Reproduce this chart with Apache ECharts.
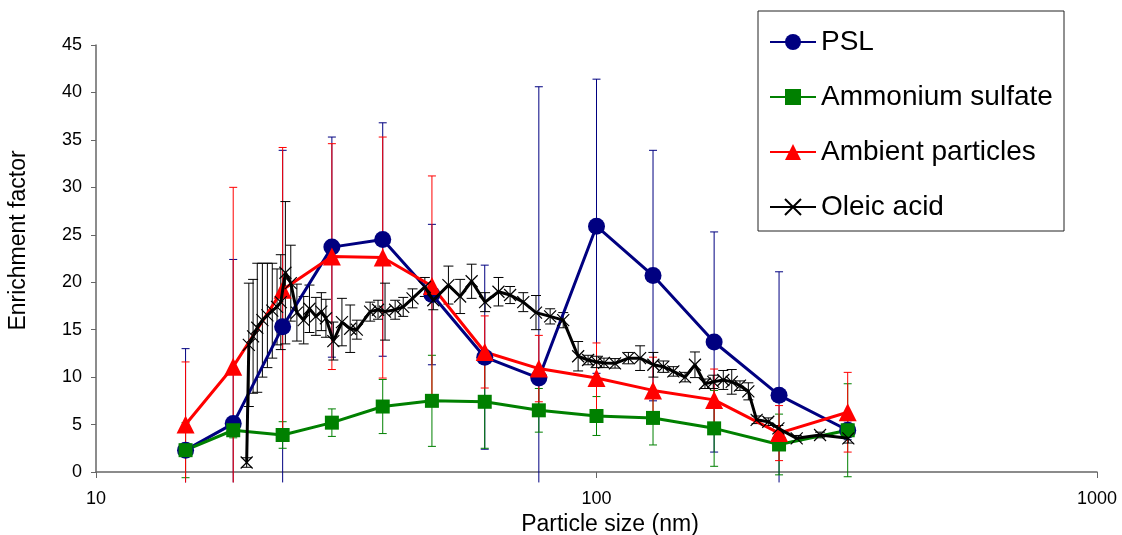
<!DOCTYPE html>
<html>
<head>
<meta charset="utf-8">
<script src="https://cdn.jsdelivr.net/npm/echarts@6/dist/echarts.min.js"></script>
<style>
html,body{margin:0;padding:0;background:#fff;}
#chart{width:1122px;height:535px;}
</style>
</head>
<body>
<div id="chart"></div>
<script>
// Shared particle sizes (nm) for PSL, ammonium sulfate, ambient particles
const sizes = [15.1, 18.8, 23.6, 29.6, 37.4, 46.9, 59.8, 76.7, 100, 129.7, 171.8, 231.6, 317.6];
const psl = [2.3, 5.1, 15.3, 23.7, 24.5, 18.7, 12.1, 9.9, 25.9, 20.7, 13.7, 8.1, 4.4];
const pslErr = [10.7, 17.3, 18.6, 11.6, 12.3, 7.4, 9.7, 30.7, 15.5, 13.2, 11.6, 13.0, 1.0];
const ammSulfate = [2.3, 4.4, 3.9, 5.2, 6.9, 7.5, 7.4, 6.5, 5.9, 5.7, 4.6, 2.9, 4.4];
const ammSulfateErr = [2.9, 0.8, 1.4, 1.45, 2.85, 4.8, 4.9, 2.3, 2.05, 2.85, 4.0, 3.2, 4.9];
const ambient = [5.0, 11.1, 19.2, 22.7, 22.6, 19.6, 12.65, 10.9, 9.9, 8.6, 7.6, 4.1, 6.3];
const ambientErr = [6.6, 18.9, 15.0, 11.9, 12.7, 11.6, 3.8, 3.5, 3.7, 3.5, 3.25, 2.9, 4.2];

// Oleic acid
const oleicSizes = [20.0, 20.2, 20.6, 21.0, 21.5, 22.0, 22.5, 23.0, 23.4, 23.9, 24.5, 25.2, 26.0, 26.7, 27.5, 28.2, 28.8, 29.8, 31.0, 32.2, 33.2, 35.3, 36.6, 37.8, 39.6, 41.1, 42.9, 45.4, 47.2, 50.6, 53.4, 56.3, 59.9, 63.7, 67.2, 71.4, 75.7, 80.8, 85.8, 91.9, 96.2, 100.1, 103.5, 108.9, 115.8, 122.2, 129.9, 136.0, 142.4, 150.3, 157.3, 164.7, 171.1, 179.2, 186.3, 193.5, 201.1, 208.9, 220.4, 230.9, 251.2, 279.7, 318.5];
const oleic = [1.0, 13.4, 14.3, 15.2, 16.0, 16.5, 17.0, 17.4, 17.9, 21.0, 19.9, 16.8, 16.0, 17.2, 16.4, 16.9, 16.2, 13.8, 15.8, 15.1, 15.0, 16.9, 17.1, 16.9, 17.1, 17.4, 18.3, 19.5, 18.1, 19.7, 18.5, 20.1, 17.9, 19.0, 18.65, 17.9, 16.8, 16.4, 16.0, 12.2, 11.8, 11.6, 11.5, 11.45, 12.0, 12.0, 11.3, 11.1, 10.6, 10.0, 11.3, 9.3, 9.5, 9.7, 9.5, 9.1, 8.5, 5.5, 5.3, 4.6, 3.55, 3.9, 3.55];
const oleicErr = [0.5, 6.5, 6.0, 6.8, 6.0, 5.5, 5.0, 4.0, 5.0, 7.5, 4.0, 3.0, 2.5, 2.5, 2.0, 2.0, 2.0, 2.0, 2.5, 2.5, 1.0, 1.0, 1.0, 3.0, 1.0, 1.0, 1.0, 1.0, 1.0, 2.0, 1.8, 1.8, 1.0, 1.5, 0.9, 1.0, 1.8, 0.8, 0.8, 1.55, 0.5, 0.6, 0.5, 0.5, 0.6, 1.3, 1.3, 0.6, 0.5, 0.5, 1.35, 0.5, 0.7, 1.0, 1.3, 0.5, 0.9, 0.4, 0.4, 0.3, 0.3, 0.3, 0.5];

const xTicks = [10, 100, 1000];

const FONT = '"Liberation Sans", Arial, sans-serif';

function pairs(xs, ys) { return xs.map((x, i) => [x, ys[i]]); }
function errRows(xs, ys, es) { return xs.map((x, i) => [x, ys[i] - es[i], ys[i] + es[i]]); }

function errRenderer(color, capHalf) {
  return function (params, api) {
    const x = api.value(0), lo = api.value(1), hi = api.value(2);
    const pHi = api.coord([x, hi]);
    let pLo = api.coord([x, lo]);
    const floorY = api.coord([x, -1.1])[1];
    let capLo = true;
    if (pLo[1] > floorY) { pLo = [pLo[0], floorY]; capLo = false; }
    const w = capHalf;
    const style = { stroke: color, lineWidth: 1, fill: null };
    const children = [
      { type: 'line', shape: { x1: pHi[0], y1: pHi[1], x2: pLo[0], y2: pLo[1] }, style },
      { type: 'line', shape: { x1: pHi[0] - w, y1: pHi[1], x2: pHi[0] + w, y2: pHi[1] }, style }
    ];
    if (capLo) children.push({ type: 'line', shape: { x1: pLo[0] - w, y1: pLo[1], x2: pLo[0] + w, y2: pLo[1] }, style });
    return { type: 'group', children };
  };
}

function errSeries(name, xs, ys, es, color, capHalf) {
  return {
    name: name, type: 'custom', data: errRows(xs, ys, es),
    renderItem: errRenderer(color, capHalf), encode: { x: 0, y: [1, 2] },
    z: 1, silent: true, clip: false
  };
}

const chart = echarts.init(document.getElementById('chart'), null, { renderer: 'canvas' });
chart.setOption({
  animation: false,
  backgroundColor: '#fff',
  grid: { left: 96, right: 25, top: 45, bottom: 63, containLabel: false, outerBoundsMode: 'none' },
  xAxis: {
    type: 'log', logBase: 10, min: xTicks[0], max: xTicks[xTicks.length - 1],
    name: 'Particle size (nm)', nameLocation: 'middle', nameGap: 40,
    nameTextStyle: { fontFamily: FONT, fontSize: 23, color: '#000', padding: [0, 0, 0, 27] },
    axisLine: { lineStyle: { color: '#666', width: 1.5 } },
    axisTick: { show: true, length: 6, lineStyle: { color: '#666' } },
    minorTick: { show: false },
    splitLine: { show: false },
    axisLabel: { fontFamily: FONT, fontSize: 18, color: '#000', margin: 18, formatter: v => String(v) }
  },
  yAxis: {
    type: 'value', min: 0, max: 45, interval: 5,
    name: 'Enrichment factor', nameLocation: 'middle', nameGap: 66,
    nameTextStyle: { fontFamily: FONT, fontSize: 23, color: '#000', padding: [0, 0, 0, 36] },
    axisLine: { show: true, lineStyle: { color: '#666', width: 1.5 } },
    axisTick: { show: true, length: 5, lineStyle: { color: '#666' } },
    splitLine: { show: false },
    axisLabel: { fontFamily: FONT, fontSize: 18, color: '#000', margin: 14 }
  },
  legend: {
    orient: 'vertical', left: 764, top: 22, z: 10,
    data: ['PSL', 'Ammonium sulfate', 'Ambient particles', 'Oleic acid'],
    itemWidth: 46, itemHeight: 20, itemGap: 25,
    textStyle: { fontFamily: FONT, fontSize: 28, color: '#000', lineHeight: 30, padding: [0, 0, 0, 0] }
  },
  graphic: [{
    type: 'rect', z: 5, silent: true,
    shape: { x: 758, y: 11, width: 306, height: 220 },
    style: { fill: '#fff', stroke: '#222', lineWidth: 1 }
  }],
  series: [
    errSeries('PSL err', sizes, psl, pslErr, '#000080', 4),
    errSeries('AS err', sizes, ammSulfate, ammSulfateErr, '#008000', 4),
    errSeries('Amb err', sizes, ambient, ambientErr, '#ff0000', 4),
    errSeries('Oleic err', oleicSizes, oleic, oleicErr, '#000000', 5),
    {
      name: 'PSL', type: 'line', data: pairs(sizes, psl), z: 2,
      symbol: 'circle', symbolSize: 17, showAllSymbol: true,
      lineStyle: { color: '#000080', width: 3 }, itemStyle: { color: '#000080' }
    },
    {
      name: 'Ammonium sulfate', type: 'line', data: pairs(sizes, ammSulfate), z: 2,
      symbol: 'rect', symbolSize: 14, showAllSymbol: true,
      lineStyle: { color: '#008000', width: 3 }, itemStyle: { color: '#008000' }
    },
    {
      name: 'Ambient particles', type: 'line', data: pairs(sizes, ambient), z: 2,
      symbol: 'triangle', symbolSize: 18, showAllSymbol: true,
      lineStyle: { color: '#ff0000', width: 3 }, itemStyle: { color: '#ff0000' }
    },
    {
      name: 'Oleic acid', type: 'line', data: pairs(oleicSizes, oleic), z: 3,
      symbol: 'path://M0,0L10,10M0,10L10,0', symbolSize: 12, showAllSymbol: true,
      lineStyle: { color: '#000', width: 3 },
      itemStyle: { color: 'rgba(0,0,0,0)', borderColor: '#000', borderWidth: 1.2 }
    }
  ]
});
</script>
</body>
</html>
